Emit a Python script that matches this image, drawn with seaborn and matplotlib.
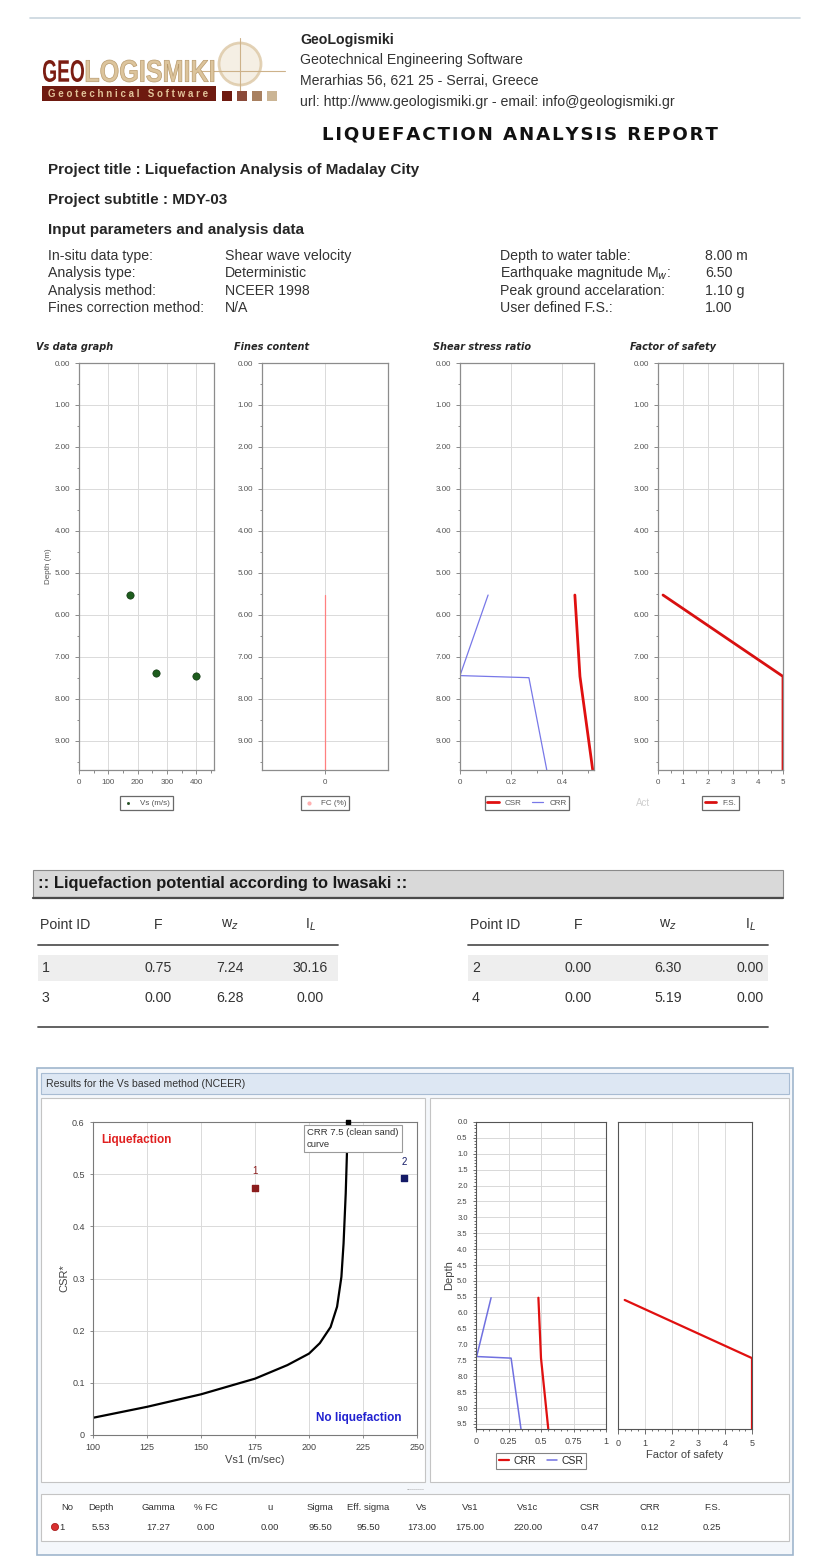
import numpy as np
import pandas as pd
import seaborn as sns
import matplotlib.pyplot as plt
from matplotlib.patches import Rectangle, Circle, PathPatch
from matplotlib.textpath import TextPath
from matplotlib.font_manager import FontProperties
from matplotlib.transforms import Affine2D
from matplotlib.ticker import MultipleLocator, FormatStrFormatter, FixedLocator

W, H = 823, 1568

# ---------------- data ----------------
param_left_labels = ['In-situ data type:', 'Analysis type:', 'Analysis method:', 'Fines correction method:']
param_left_values = ['Shear wave velocity', 'Deterministic', 'NCEER 1998', 'N/A']
param_right_labels = ['Depth to water table:', 'Earthquake magnitude M$_w$:', 'Peak ground accelaration:',
                      'User defined F.S.:']
param_right_values = ['8.00 m', '6.50', '1.10 g', '1.00']

# Vs data graph
vs_depth = [5.53, 7.40, 7.45]
vs_values = [173, 262, 400]
# Fines content
fc_depth = [5.53, 9.70]
fc_values = [0, 0]
# Shear stress ratio
csr_depth = [5.53, 7.47, 9.70]
csr_values = [0.45, 0.47, 0.52]
crr_depth = [5.53, 7.45, 7.50, 9.70]
crr_values = [0.11, 0.0, 0.27, 0.34]
# Factor of safety
fs_depth = [5.53, 7.47, 9.70]
fs_values = [0.2, 5.0, 5.0]

# Iwasaki table
iw_left = {'id': ['1', '3'], 'F': ['0.75', '0.00'], 'wz': ['7.24', '6.28'], 'IL': ['30.16', '0.00']}
iw_right = {'id': ['2', '4'], 'F': ['0.00', '0.00'], 'wz': ['6.30', '5.19'], 'IL': ['0.00', '0.00']}

# CRR 7.5 clean sand curve and points
curve_vs1 = [100, 125, 150, 175, 190, 200, 205, 210, 213, 215, 216, 217, 218]
curve_crr = [0.033, 0.054, 0.078, 0.108, 0.134, 0.156, 0.176, 0.207, 0.246, 0.303, 0.367, 0.463, 0.60]
point_ids = ['1', '2']
point_vs1 = [175, 244]
point_csr = [0.474, 0.492]
point_colors = ['#8b1c1c', '#141a66']

# result profile (bottom right)
res_crr_depth = [5.53, 7.43, 9.66]
res_crr = [0.48, 0.50, 0.556]
res_csr_depth = [5.53, 7.38, 7.43, 9.66]
res_csr = [0.116, 0.005, 0.27, 0.346]
res_fs_depth = [5.60, 7.43, 9.66]
res_fs = [0.25, 5.0, 5.0]

# bottom results grid
res_headers = ['No', 'Depth', 'Gamma', '% FC', 'u', 'Sigma', 'Eff. sigma', 'Vs', 'Vs1', 'Vs1c', 'CSR', 'CRR', 'F.S.']
res_row = ['1', '5.53', '17.27', '0.00', '0.00', '95.50', '95.50', '173.00', '175.00', '220.00', '0.47', '0.12', '0.25']

# ---------------- figure ----------------
sns.set_style('white')
plt.rcParams['font.family'] = ['Liberation Sans', 'DejaVu Sans']

fig = plt.figure(figsize=(W / 100, H / 100), dpi=100)
bg = fig.add_axes([0, 0, 1, 1])
bg.set_xlim(0, W)
bg.set_ylim(H, 0)
bg.axis('off')
renderer = fig.canvas.get_renderer()


def add_ax(x0, y0, x1, y1):
    return fig.add_axes([x0 / W, 1 - y1 / H, (x1 - x0) / W, (y1 - y0) / H])


def txt(x, y, s, **kw):
    kw.setdefault('va', 'center')
    kw.setdefault('fontsize', 10.2)
    return bg.text(x, y, s, **kw)


def fit(x0, x1, y, s, size, **kw):
    # scale the font so the text spans x0..x1
    t = txt(x0, y, s, fontsize=size, **kw)
    w = t.get_window_extent(renderer=renderer).width
    t.set_fontsize(size * (x1 - x0) / w)
    return t


def box_text(s, x0, x1, y0, y1, fc, ec='none'):
    # condensed logo lettering: text outline stretched into a box
    tp = TextPath((0, 0), s, size=10, prop=FontProperties(family='Liberation Sans', weight='bold'))
    ext = tp.get_extents()
    tr = (Affine2D().translate(-ext.x0, -ext.y0)
          .scale((x1 - x0) / ext.width, -(y1 - y0) / ext.height)
          .translate(x0, y1) + bg.transData)
    bg.add_patch(PathPatch(tp, fc=fc, ec=ec, lw=0.5, transform=tr))


# header line
bg.plot([30, 800], [18, 18], color='#c9d5de', lw=1.2)

# logo
bg.add_patch(Circle((240, 64), 21, fc='#f3ebde', ec='#dcc7a4', lw=2, alpha=0.8, zorder=0))
bg.plot([190, 285], [71, 71], color='#cdb28a', lw=0.8, zorder=0)
bg.plot([240, 240], [38, 92], color='#cdb28a', lw=0.8, zorder=0)
box_text('GEO', 43, 84, 60, 82, '#7b1d12')
box_text('LOGISMIKI', 86, 214, 60, 82, '#dcc49c', ec='#b89a6c')
bg.add_patch(Rectangle((42, 86), 174, 15, fc='#6e1a10', ec='none'))
fit(48, 210, 94, 'G e o t e c h n i c a l   S o f t w a r e', 5, color='#e2c39a', fontweight='bold')
for i, c in enumerate(['#6e1a10', '#8a4a3a', '#a88060', '#cbb595']):
    bg.add_patch(Rectangle((222 + i * 15, 91), 10, 10, fc=c, ec='none'))

txt(300, 40, 'GeoLogismiki', fontweight='bold')
txt(300, 60, 'Geotechnical Engineering Software', color='#333333')
txt(300, 81, 'Merarhias 56, 621 25 - Serrai, Greece', color='#333333')
txt(300, 102, 'url: http://www.geologismiki.gr - email: info@geologismiki.gr', color='#333333')
fit(322, 716, 134, '\u200a'.join('LIQUEFACTION ANALYSIS REPORT'), 12, fontweight='bold', family='DejaVu Sans',
    color='#111111')

txt(48, 170, 'Project title : Liquefaction Analysis of Madalay City', fontweight='bold', fontsize=11)
txt(48, 200, 'Project subtitle : MDY-03', fontweight='bold', fontsize=11)
txt(48, 230, 'Input parameters and analysis data', fontweight='bold', fontsize=11)
for i in range(4):
    y = 256 + i * 17.3
    txt(48, y, param_left_labels[i], color='#333333')
    txt(225, y, param_left_values[i], color='#333333')
    txt(500, y, param_right_labels[i], color='#333333')
    txt(705, y, param_right_values[i], color='#333333')


# ---------------- four depth plots ----------------
def depth_axes(x0, x1, title, tx):
    ax = add_ax(x0, 363, x1, 770)
    ax.set_ylim(9.7, 0)
    ax.yaxis.set_major_locator(MultipleLocator(1))
    ax.yaxis.set_minor_locator(MultipleLocator(0.5))
    ax.yaxis.set_major_formatter(FormatStrFormatter('%.2f'))
    ax.grid(True, color='#dadada', lw=0.7)
    for s in ax.spines.values():
        s.set_color('#8c8c8c')
        s.set_linewidth(0.9)
    ax.tick_params(which='both', labelsize=5.8, labelcolor='#555555', color='#777777', width=0.6,
                   left=True, bottom=True, direction='out')
    ax.tick_params(which='major', length=3)
    ax.tick_params(which='minor', length=1.8)
    txt(tx, 347, title, fontsize=7, style='italic', fontweight='bold', family='DejaVu Sans')
    return ax


def small_legend(ax, **kw):
    leg = ax.legend(loc='upper center', bbox_to_anchor=(0.5, -0.055), frameon=True, fancybox=False,
                    fontsize=5.8, edgecolor='#444444', borderpad=0.35, handlelength=1.4, **kw)
    leg.get_frame().set_linewidth(0.9)
    for t in leg.get_texts():
        t.set_color('#555555')


ax1 = depth_axes(79, 214, 'Vs data graph', 36)
sns.scatterplot(x=vs_values, y=vs_depth, ax=ax1, color='#1d5c1d', edgecolor='#0c2f0c', s=28,
                label='Vs (m/s)', zorder=3)
ax1.set_xlim(0, 460)
ax1.xaxis.set_major_locator(MultipleLocator(100))
ax1.xaxis.set_minor_locator(MultipleLocator(50))
ax1.set_ylabel('Depth (m)', fontsize=5.8, color='#555555', labelpad=2)
small_legend(ax1, markerscale=0.3)

ax2 = depth_axes(262, 388, 'Fines content', 234)
sns.lineplot(x=fc_values, y=fc_depth, ax=ax2, color='#ff8080', lw=0.9, sort=False, estimator=None)
ax2.set_xlim(-1, 1)
ax2.xaxis.set_major_locator(FixedLocator([0]))
ax2.xaxis.set_major_formatter(FormatStrFormatter('%d'))
ax2.scatter([], [], s=4, color='#ffb0b0', label='FC (%)')
small_legend(ax2)

ax3 = depth_axes(460, 594, 'Shear stress ratio', 433)
sns.lineplot(x=csr_values, y=csr_depth, ax=ax3, color='#e01010', lw=2, sort=False, estimator=None, label='CSR')
sns.lineplot(x=crr_values, y=crr_depth, ax=ax3, color='#7878e8', lw=0.9, sort=False, estimator=None, label='CRR')
ax3.set_xlim(0, 0.525)
ax3.xaxis.set_major_locator(FixedLocator([0, 0.2, 0.4]))
ax3.set_xticklabels(['0', '0.2', '0.4'])
ax3.xaxis.set_minor_locator(MultipleLocator(0.1))
small_legend(ax3, ncol=2, columnspacing=1.2)

ax4 = depth_axes(658, 783, 'Factor of safety', 630)
sns.lineplot(x=fs_values, y=fs_depth, ax=ax4, color='#d81010', lw=2, sort=False, estimator=None, label='F.S.')
ax4.set_xlim(0, 5)
ax4.xaxis.set_major_locator(MultipleLocator(1))
ax4.xaxis.set_minor_locator(MultipleLocator(0.5))
small_legend(ax4)
for ax in (ax1, ax2, ax3, ax4):
    ax.set_xlabel('')
txt(636, 803, 'Act', fontsize=7, color='#d0d0d0')

# ---------------- Iwasaki section ----------------
bg.add_patch(Rectangle((33, 870), 750, 27, fc='#d9d9d9', ec='#8a8a8a', lw=0.8))
bg.plot([33, 783], [897.5, 897.5], color='#4a4a4a', lw=1.6)
fit(38, 410, 883, ':: Liquefaction potential according to Iwasaki ::', 11, fontweight='bold',
    color='#1a1a1a')

for tbl, xs, x0, x1 in [(iw_left, [40, 158, 230, 310], 38, 338), (iw_right, [470, 578, 668, 750], 468, 768)]:
    bg.add_patch(Rectangle((x0, 955), x1 - x0, 26, fc='#eeeeee', ec='none'))
    txt(xs[0], 925, 'Point ID', color='#333333')
    txt(xs[1], 925, 'F', color='#333333', ha='center')
    txt(xs[2], 925, 'w$_z$', color='#333333', ha='center')
    txt(xs[3], 925, 'I$_L$', color='#333333', ha='center')
    bg.plot([x0, x1], [945, 945], color='#555555', lw=1.3)
    for r in range(2):
        y = 968 + r * 30
        txt(xs[0] + 2, y, tbl['id'][r], color='#333333')
        txt(xs[1], y, tbl['F'][r], color='#333333', ha='center')
        txt(xs[2], y, tbl['wz'][r], color='#333333', ha='center')
        txt(xs[3], y, tbl['IL'][r], color='#333333', ha='center')
bg.plot([38, 768], [1027, 1027], color='#555555', lw=1.3)

# ---------------- results window ----------------
bg.add_patch(Rectangle((37, 1068), 756, 487, fc='#f4f7fb', ec='#9fb6cd', lw=1.2))
bg.add_patch(Rectangle((41, 1073), 748, 21, fc='#dde7f3', ec='#a8bcd3', lw=0.8))
txt(46, 1084, 'Results for the Vs based method (NCEER)', fontsize=7.6, color='#333333')
bg.add_patch(Rectangle((41, 1098), 384, 384, fc='white', ec='#c4c4c4', lw=0.8))
bg.add_patch(Rectangle((430, 1098), 359, 384, fc='white', ec='#c4c4c4', lw=0.8))
txt(415, 1488, '.........', fontsize=5, color='#777777', ha='center')
bg.add_patch(Rectangle((41, 1494), 748, 47, fc='white', ec='#c4c4c4', lw=0.8))

# left chart: CSR* vs Vs1
axc = add_ax(93, 1122, 417, 1435)
sns.lineplot(x=curve_vs1, y=curve_crr, ax=axc, color='black', lw=1.6, sort=False, estimator=None)
for pid, xv, yv, c in zip(point_ids, point_vs1, point_csr, point_colors):
    axc.scatter(xv, yv, marker='s', s=24, color=c, zorder=4)
    axc.text(xv, yv + 0.022, pid, fontsize=7, ha='center', va='bottom', color=c)
axc.scatter(curve_vs1[-1], curve_crr[-1], marker='s', s=5, color='black', zorder=5, clip_on=False)
axc.set_xlim(100, 250)
axc.set_ylim(0, 0.6)
axc.xaxis.set_major_locator(MultipleLocator(25))
axc.set_yticks([0, 0.1, 0.2, 0.3, 0.4, 0.5, 0.6])
axc.set_yticklabels(['0', '0.1', '0.2', '0.3', '0.4', '0.5', '0.6'])
axc.grid(True, color='#dadada', lw=0.7)
axc.tick_params(labelsize=6.5, labelcolor='#444444', color='#777777', length=2.5, width=0.6, left=True,
                bottom=True)
for s in axc.spines.values():
    s.set_color('#7a7a7a')
axc.set_xlabel('Vs1 (m/sec)', fontsize=8, color='#444444', labelpad=2)
axc.set_ylabel('CSR*', fontsize=8, color='#444444', labelpad=2)
axc.text(104, 0.565, 'Liquefaction', color='#e02020', fontweight='bold', fontsize=8.5, va='center')
axc.text(243, 0.032, 'No liquefaction', color='#2020d0', fontweight='bold', fontsize=8.5, va='center',
         ha='right')
axc.text(199, 0.588, 'CRR 7.5 (clean sand)\ncurve', fontsize=6.8, va='top', ha='left', color='#333333',
         linespacing=1.4,
         bbox=dict(boxstyle='square,pad=0.35', fc='white', ec='#9a9a9a', lw=0.8), zorder=6)

# right charts: profile + factor of safety
axr = add_ax(476, 1122, 606, 1429)
sns.lineplot(x=res_crr, y=res_crr_depth, ax=axr, color='#e01010', lw=1.6, sort=False, estimator=None,
             label='CRR')
sns.lineplot(x=res_csr, y=res_csr_depth, ax=axr, color='#7070e0', lw=1.1, sort=False, estimator=None,
             label='CSR')
axr.set_xlim(0, 1)
axr.set_ylim(9.66, 0)
axr.set_xticks([0, 0.25, 0.5, 0.75, 1])
axr.set_xticklabels(['0', '0.25', '0.5', '0.75', '1'])
axr.xaxis.set_minor_locator(MultipleLocator(0.05))
axr.yaxis.set_major_locator(MultipleLocator(0.5))
axr.yaxis.set_minor_locator(MultipleLocator(0.1))
axr.yaxis.set_major_formatter(FormatStrFormatter('%.1f'))
axr.grid(True, color='#d8d8d8', lw=0.7)
axr.tick_params(which='both', labelsize=6.5, labelcolor='#444444', color='#555555', width=0.6, left=True,
                bottom=True)
axr.tick_params(axis='y', labelsize=5.5)
axr.tick_params(which='major', length=2.5)
axr.tick_params(which='minor', length=1.5)
axr.set_xlabel('')
axr.set_ylabel('Depth', fontsize=8, color='#444444', labelpad=2)
for s in axr.spines.values():
    s.set_color('#555555')
leg = axr.legend(loc='upper center', bbox_to_anchor=(0.5, -0.06), ncol=2, frameon=True, fancybox=False,
                 fontsize=7.5, edgecolor='#666666', handlelength=1.0, columnspacing=1.0, borderpad=0.3,
                 handletextpad=0.4)
leg.get_frame().set_linewidth(0.8)

axf = add_ax(618, 1122, 752, 1429)
sns.lineplot(x=res_fs, y=res_fs_depth, ax=axf, color='#e01010', lw=1.6, sort=False, estimator=None)
axf.set_xlim(0, 5)
axf.set_ylim(9.66, 0)
axf.xaxis.set_major_locator(MultipleLocator(1))
axf.xaxis.set_minor_locator(MultipleLocator(0.25))
axf.set_yticks([])
axf.grid(True, axis='x', color='#dcdcdc', lw=0.7)
axf.tick_params(which='both', labelsize=6.5, labelcolor='#444444', color='#555555', width=0.6, bottom=True)
axf.tick_params(which='minor', length=1.5)
axf.set_xlabel('Factor of safety', fontsize=8, color='#444444', labelpad=2)
for s in axf.spines.values():
    s.set_color('#555555')

# results grid
col_x = [67, 101, 158, 206, 270, 320, 368, 422, 470, 528, 590, 650, 712]
for i, (h, v) in enumerate(zip(res_headers, res_row)):
    txt(col_x[i], 1507, h, fontsize=6.8, color='#333333', ha='center')
    txt(col_x[i] - (5 if i == 0 else 0), 1527, v, fontsize=6.8, color='#333333', ha='center')
bg.add_patch(Circle((55, 1527), 3.6, fc='#d83030', ec='#a01010', lw=0.5))

fig.savefig('out.png', dpi=100)
